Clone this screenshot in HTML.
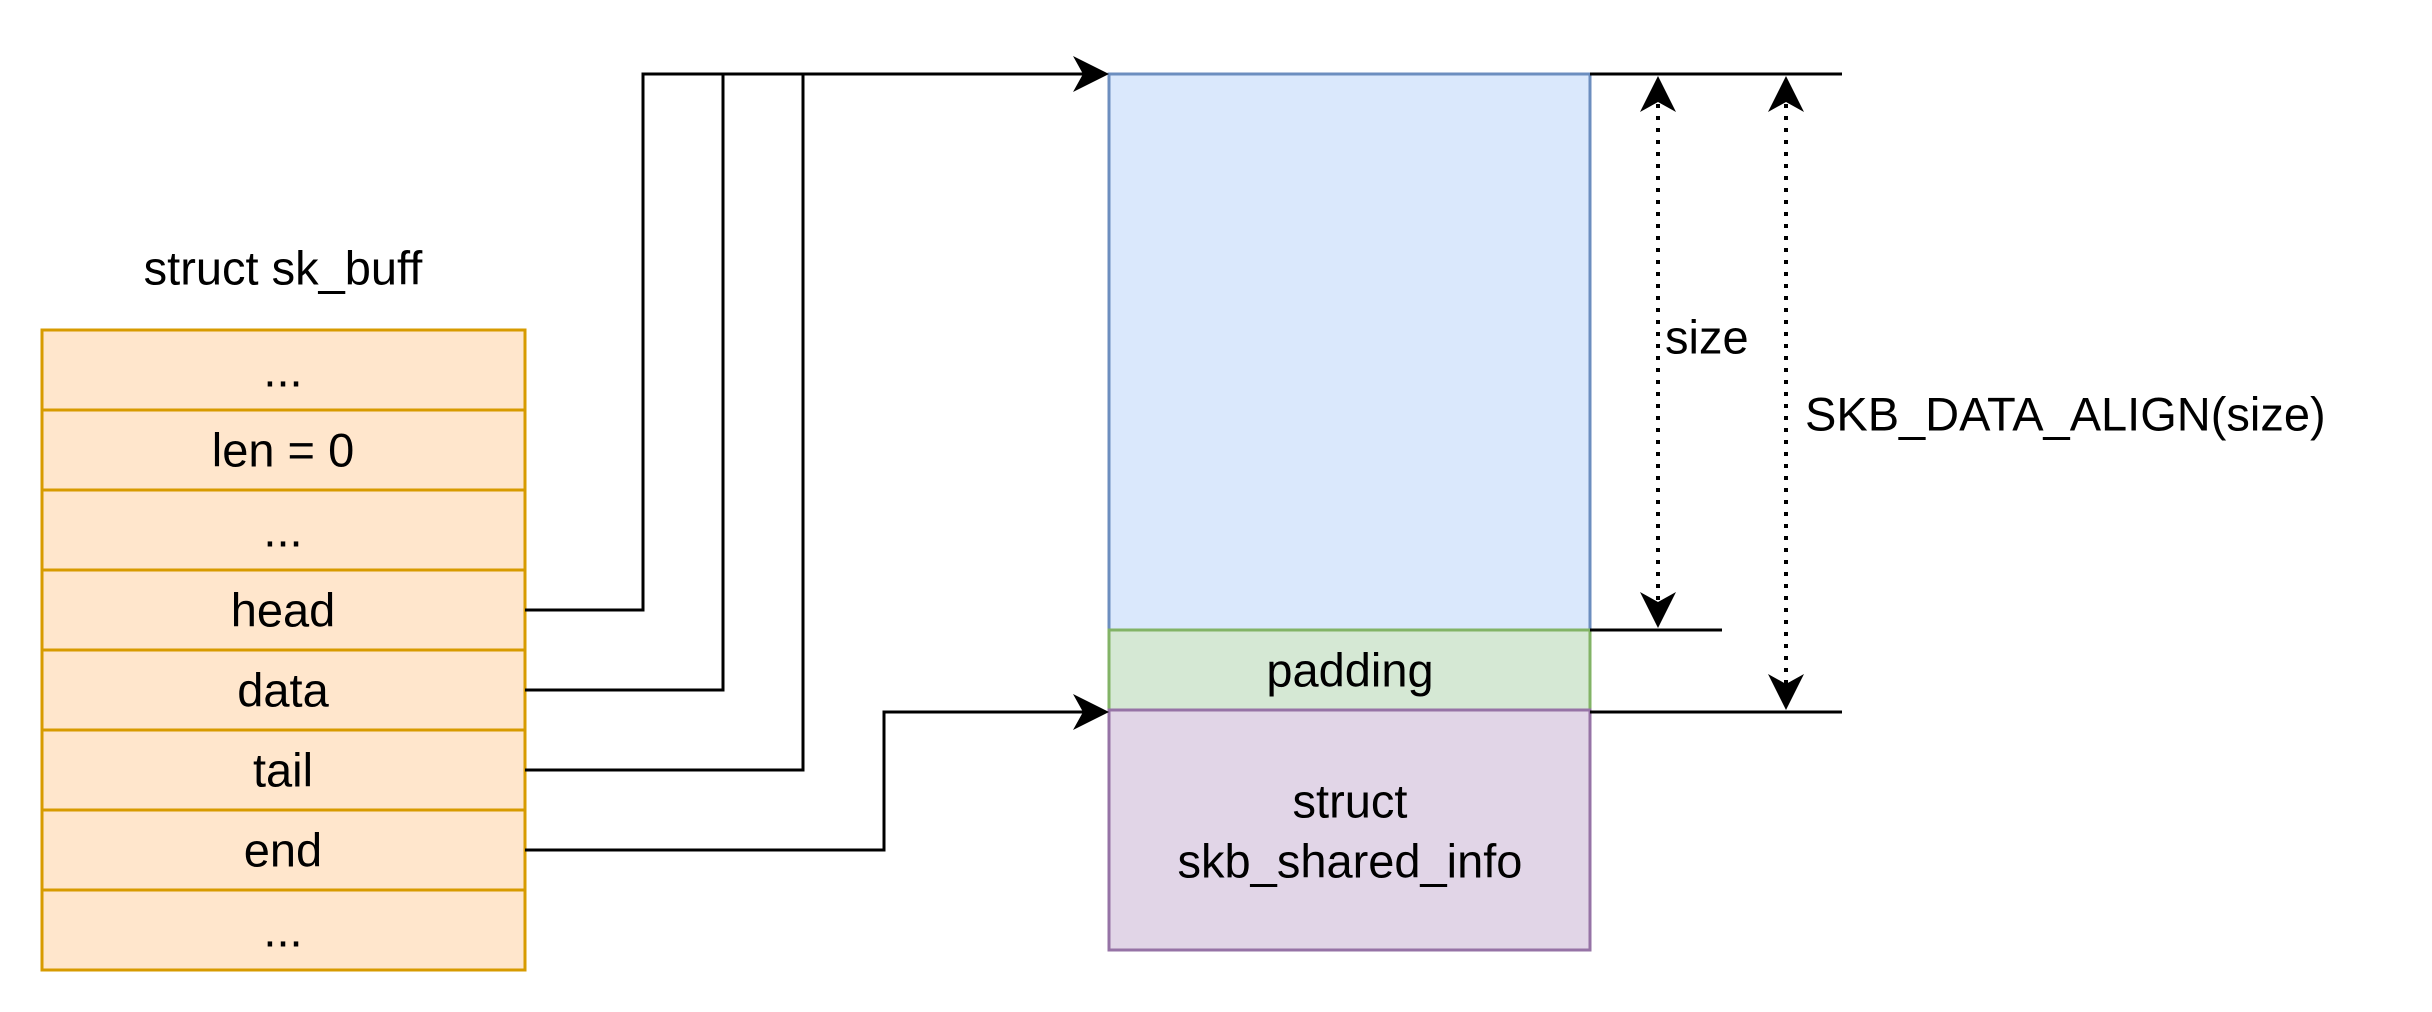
<!DOCTYPE html>
<html><head><meta charset="utf-8"><style>
html,body{margin:0;padding:0;background:#fff;}
svg{display:block;}
text{font-family:"Liberation Sans",sans-serif;font-size:47px;fill:#000;}
</style></head><body>
<svg width="2432" height="1012" viewBox="0 0 2432 1012" xmlns="http://www.w3.org/2000/svg">
<defs>
<path id="ah" d="M0,0 L-18,-36 L0,-26 L18,-36 Z" fill="#000"/>
</defs>
<text x="283" y="268" text-anchor="middle" dominant-baseline="central">struct sk_buff</text>
<g stroke="#d79b00" stroke-width="3" fill="#ffe6cc">
<rect x="42" y="330" width="483" height="80"/>
<rect x="42" y="410" width="483" height="80"/>
<rect x="42" y="490" width="483" height="80"/>
<rect x="42" y="570" width="483" height="80"/>
<rect x="42" y="650" width="483" height="80"/>
<rect x="42" y="730" width="483" height="80"/>
<rect x="42" y="810" width="483" height="80"/>
<rect x="42" y="890" width="483" height="80"/>
</g>
<g text-anchor="middle" dominant-baseline="central">
<text x="283" y="370">...</text>
<text x="283" y="450">len = 0</text>
<text x="283" y="530">...</text>
<text x="283" y="610">head</text>
<text x="283" y="690">data</text>
<text x="283" y="770">tail</text>
<text x="283" y="850">end</text>
<text x="283" y="930">...</text>
</g>
<rect x="1109" y="74" width="481" height="556" fill="#dae8fc" stroke="#6c8ebf" stroke-width="3"/>
<rect x="1109" y="630" width="481" height="80" fill="#d5e8d4" stroke="#82b366" stroke-width="3"/>
<rect x="1109" y="710" width="481" height="240" fill="#e1d5e7" stroke="#9673a6" stroke-width="3"/>
<g text-anchor="middle" dominant-baseline="central">
<text x="1350" y="670">padding</text>
<text x="1350" y="801">struct</text>
<text x="1350" y="861">skb_shared_info</text>
</g>
<g stroke="#000" stroke-width="3" fill="none">
<polyline points="525,610 643,610 643,74 1095,74"/>
<polyline points="525,690 723,690 723,74"/>
<polyline points="525,770 803,770 803,74"/>
<polyline points="525,850 884,850 884,712 1095,712"/>
<line x1="1590" y1="74" x2="1842" y2="74"/>
<line x1="1590" y1="630" x2="1722" y2="630"/>
<line x1="1590" y1="712" x2="1842" y2="712"/>
<line x1="1658" y1="104" x2="1658" y2="600" stroke-dasharray="4,8" stroke-width="4"/>
<line x1="1786" y1="104" x2="1786" y2="684" stroke-dasharray="4,8" stroke-width="4"/>
</g>
<use href="#ah" transform="translate(1109,74) rotate(-90)"/>
<use href="#ah" transform="translate(1109,712) rotate(-90)"/>
<use href="#ah" transform="translate(1658,76) rotate(180)"/>
<use href="#ah" transform="translate(1658,628)"/>
<use href="#ah" transform="translate(1786,76) rotate(180)"/>
<use href="#ah" transform="translate(1786,710)"/>
<text x="1665" y="337" dominant-baseline="central">size</text>
<text x="1805" y="414" dominant-baseline="central">SKB_DATA_ALIGN(size)</text>
</svg>
</body></html>
